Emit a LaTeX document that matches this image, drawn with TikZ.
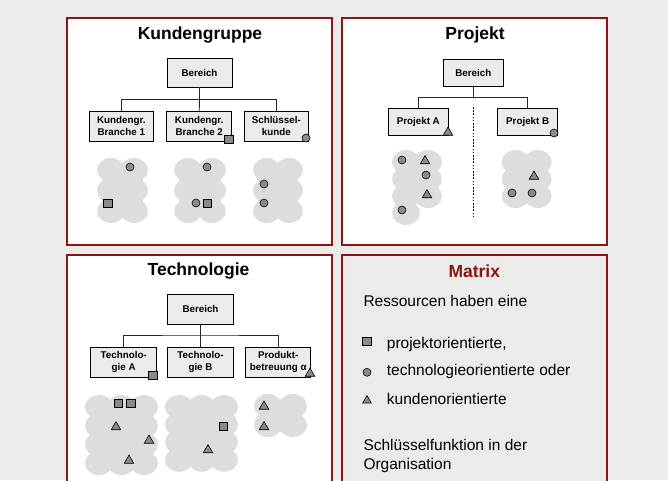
\documentclass[tikz,border=0pt]{standalone}
\usepackage{fontspec}
\setmainfont{Liberation Sans}
\usetikzlibrary{shapes.geometric}
\definecolor{bgc}{RGB}{235,235,235}
\definecolor{frame}{RGB}{140,20,20}
\definecolor{boxc}{RGB}{235,235,235}
\definecolor{cloudc}{RGB}{221,221,221}
\definecolor{markc}{RGB}{138,138,138}
\tikzset{
  panel/.style={draw=frame, line width=1.5pt, fill=white},
  orgbox/.style={draw=black, fill=boxc, line width=0.8pt, inner sep=0pt, align=center,
     font=\bfseries\fontsize{9.8}{12}\selectfont},
  ttl/.style={font=\bfseries\fontsize{17.5}{20}\selectfont},
  body/.style={font=\fontsize{15.5}{19}\selectfont, inner sep=0pt, anchor=west, align=left},
  conn/.style={draw=black!85, line width=0.9pt},
  msq/.style={draw=black, fill=markc, line width=0.6pt, rectangle, minimum width=8.5pt, minimum height=8pt, inner sep=0pt},
  mci/.style={draw=black, fill=markc, line width=0.6pt, circle, minimum size=8pt, inner sep=0pt},
  mtr/.style={draw=black, fill=markc, line width=0.6pt, regular polygon, regular polygon sides=3, minimum size=11pt, inner sep=0pt},
}
% cloud: first centre x,y ; cols ; rows ; dx ; dy
\newcommand{\cloudgrid}[6]{%
  \foreach \ci in {1,...,#3}{\foreach \cj in {1,...,#4}{%
    \fill[cloudc] ({#1+(\ci-1)*#5},{#2+(\cj-1)*#6}) ellipse [x radius=14pt, y radius=12pt];}}%
  \fill[cloudc] ({#1-9},{#2-7}) rectangle ({#1+(#3-1)*#5+9},{#2+(#4-1)*#6+7});}
\begin{document}
\begin{tikzpicture}[x=1pt,y=-1pt]
\fill[bgc] (0,0) rectangle (668,480);
\useasboundingbox (0,0) rectangle (668,480);
\clip (0,0) rectangle (668,480);

% panels
\draw[panel] (67,18) rectangle (332,245);
\draw[panel] (342,18) rectangle (607,245);
\draw[panel] (67,255) rectangle (332,490);
\draw[panel, fill=bgc] (342,255) rectangle (607,490);

% ---------------- Kundengruppe
\node[ttl] (kt) at (200,35) {Kundengruppe};
\cloudgrid{111}{170}{2}{3}{23}{20.5}
\cloudgrid{188}{170}{2}{3}{24}{20.5}
\cloudgrid{267}{170}{2}{3}{22}{20.5}
\node[orgbox, minimum width=65pt, minimum height=29pt] (kb) at (199.5,72.5) {Bereich};
\node[orgbox, minimum width=64pt, minimum height=29.5pt] (k1) at (121.3,126.4) {Kundengr.\\Branche 1};
\node[orgbox, minimum width=65pt, minimum height=29.5pt] (k2) at (199.2,126.4) {Kundengr.\\Branche 2};
\node[orgbox, minimum width=64pt, minimum height=29.5pt] (k3) at (276.3,126.4) {Schlüssel-\\kunde};
\coordinate (kj) at (199.5,99.3);
\draw[conn] (kb.south) -- (kj);
\draw[conn] (k1.north) |- (kj) -| (k3.north);
\draw[conn] (kj) -- (k2.north);
\node[msq] (k2m) at (229,139) {};
\node[mci] (k3m) at (306,138) {};
\node[mci] (ka1) at (130,167) {};
\node[msq] (ka2) at (108,203) {};
\node[mci] (kb1) at (207,167) {};
\node[mci] (kb2) at (196,203) {};
\node[msq] (kb3) at (207.5,203) {};
\node[mci] (kc1) at (264,184) {};
\node[mci] (kc2) at (264,203) {};

% ---------------- Projekt
\node[ttl] (pt) at (475,35) {Projekt};
\foreach \cy in {162,179,196,213} {\fill[cloudc] (406,\cy) ellipse [x radius=14pt, y radius=12pt];}
\foreach \cy in {162,179,196} {\fill[cloudc] (428,\cy) ellipse [x radius=14pt, y radius=12pt];}
\fill[cloudc] (397,155) rectangle (437,203);
\fill[cloudc] (397,190) rectangle (415,220);
\cloudgrid{515.7}{162}{2}{3}{22}{17}
\node[orgbox, minimum width=60pt, minimum height=27pt] (pb0) at (473.3,72.5) {Bereich};
\node[orgbox, minimum width=60pt, minimum height=27pt] (pa) at (418.3,121.6) {Projekt A};
\node[orgbox, minimum width=60pt, minimum height=27pt] (pb) at (527.7,121.6) {Projekt B};
\coordinate (pj) at (473.3,97.3);
\draw[conn] (pb0.south) -- (pj);
\draw[conn] (pa.north) |- (pj) -| (pb.north);
\coordinate (pd1) at (473.3,107);
\coordinate (pd2) at (473.3,218);
\draw[line width=0.8pt, dash pattern=on 1.6pt off 1.6pt] (pd1) -- (pd2);
\node[mtr] (pam) at (448,132.5) {};
\node[mci] (pbm) at (554,133) {};
\node[mci] (pa1) at (402,160) {};
\node[mtr] (pa2) at (425,161) {};
\node[mci] (pa3) at (426,175) {};
\node[mtr] (pa4) at (427,195) {};
\node[mci] (pa5) at (402,210) {};
\node[mtr] (pb1) at (534,176.5) {};
\node[mci] (pb2) at (512,193) {};
\node[mci] (pb3) at (532,193) {};

% ---------------- Technologie
\node[ttl] (tt) at (198.5,271) {Technologie};
\cloudgrid{99}{407}{3}{4}{22.5}{18.7}
\cloudgrid{179}{407}{3}{4}{22.5}{17.6}
\cloudgrid{268}{406}{2}{2}{25}{19}
\node[orgbox, minimum width=65.5pt, minimum height=30pt] (tb) at (200.5,309.2) {Bereich};
\node[orgbox, minimum width=66pt, minimum height=30pt] (t1) at (123.7,362.3) {Technolo-\\gie A};
\node[orgbox, minimum width=65.5pt, minimum height=30pt] (t2) at (200.5,362.3) {Technolo-\\gie B};
\node[orgbox, minimum width=65pt, minimum height=30pt] (t3) at (278.2,362.3) {Produkt-\\betreuung α};
\coordinate (tj) at (200.5,335);
\draw[conn] (tb.south) -- (tj);
\draw[conn] (t1.north) |- (tj) -| (t3.north);
\draw[conn] (tj) -- (t2.north);
\node[msq] (t1m) at (153,375) {};
\node[mtr] (t3m) at (310,373.5) {};
\node[msq] (ta1) at (118.3,403.3) {};
\node[msq] (ta2) at (130.7,403.3) {};
\node[mtr] (ta3) at (116,427) {};
\node[mtr] (ta4) at (149,440.5) {};
\node[mtr] (ta5) at (129,460.5) {};
\node[msq] (tb1) at (223.3,426.7) {};
\node[mtr] (tb2) at (208,450) {};
\node[mtr] (tc1) at (264,406.5) {};
\node[mtr] (tc2) at (264,427) {};

% ---------------- Matrix
\node[ttl, text=frame] (mt) at (474.3,271) {Matrix};
\node[body] (m1) at (363.3,301) {Ressourcen haben eine};
\node[msq, minimum width=9pt, minimum height=7.5pt] (ml1) at (367,341.5) {};
\node[body] (m2) at (386.7,344.3) {projektorientierte,};
\node[mci] (ml2) at (367,372.3) {};
\node[body] (m3) at (386.7,371) {technologieorientierte oder};
\node[mtr, minimum size=10pt] (ml3) at (367,400.5) {};
\node[body] (m4) at (386.7,399) {kundenorientierte};
\node[body] (m5) at (363.3,455.5) {Schlüsselfunktion in der\\Organisation};
\end{tikzpicture}
\end{document}
